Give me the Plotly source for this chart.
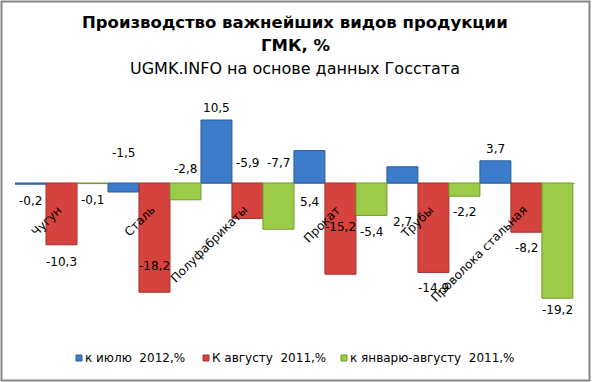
import plotly.graph_objects as go

categories = ["Чугун", "Сталь", "Полуфабрикаты", "Прокат", "Трубы", "Проволока стальная"]
series_names = ["к июлю  2012,%", "К августу  2011,%", "к январю-августу  2011,%"]
vals_july2012 = [-0.2, -1.5, 10.5, 5.4, 2.7, 3.7]
vals_aug2011 = [-10.3, -18.2, -5.9, -15.2, -14.9, -8.2]
vals_janaug2011 = [-0.1, -2.8, -7.7, -5.4, -2.2, -19.2]

# label vertical offsets in pixels relative to bar end (placement only)
lbl_shift_july = [-17, 39, 12, -51, -55, 12]
lbl_shift_aug = [-17, 26, 55, 47, -16, -16]
lbl_shift_janaug = [-16, 31, 66, -17, -16, -12]

fills = ["#3D7CCB", "#D6423E", "#9CCB48"]
edges = ["#2B5C9C", "#A32F2C", "#6E9A2C"]

W, H = 592, 382
ML, MR, MT, MB = 15, 17, 95, 62
PW, PH = W - ML - MR, H - MT - MB


def px_x(p):
    return (p - ML) / PW


def px_y(p):
    return (H - MB - p) / PH


fig = go.Figure()
all_vals = [vals_july2012, vals_aug2011, vals_janaug2011]
all_shifts = [lbl_shift_july, lbl_shift_aug, lbl_shift_janaug]
for name, v, fc, ec in zip(series_names, all_vals, fills, edges):
    fig.add_trace(go.Bar(
        x=categories, y=v, name=name,
        marker=dict(color=fc, line=dict(color=ec, width=1)),
        hoverinfo="skip", showlegend=False,
    ))

group_w = PW / len(categories)
bar_w = group_w / 3
font = "DejaVu Sans"
for si, (v, sh) in enumerate(zip(all_vals, all_shifts)):
    for ci, cat in enumerate(categories):
        fig.add_annotation(
            x=cat, y=v[ci], xref="x", yref="y",
            text=f"{v[ci]:.1f}".replace(".", ","),
            showarrow=False, xanchor="center", yanchor="middle",
            xshift=(si - 1) * bar_w, yshift=sh[ci],
            font=dict(family=font, size=12, color="#000000"),
        )

for cat in categories:
    fig.add_annotation(
        x=cat, y=0, xref="x", yref="y", text=cat, showarrow=False,
        textangle=-45, xanchor="right", yanchor="top",
        xshift=6, yshift=-17,
        font=dict(family=font, size=12, color="#000000"),
    )

# titles
fig.add_annotation(
    xref="paper", yref="paper", x=px_x(295), y=px_y(23),
    text="<b>Производство важнейших видов продукции</b>", showarrow=False,
    xanchor="center", yanchor="middle", font=dict(family=font, size=16.5, color="#000000"))
fig.add_annotation(
    xref="paper", yref="paper", x=px_x(295.5), y=px_y(46),
    text="<b>ГМК, %</b>", showarrow=False,
    xanchor="center", yanchor="middle", font=dict(family=font, size=16.5, color="#000000"))
fig.add_annotation(
    xref="paper", yref="paper", x=px_x(295), y=px_y(69),
    text="UGMK.INFO на основе данных Госстата", showarrow=False,
    xanchor="center", yanchor="middle", font=dict(family=font, size=16, color="#000000"))

# manual legend
leg_marker_left = [76, 203, 341]
leg_y = 358
for name, fc, ec, mx in zip(series_names, fills, edges, leg_marker_left):
    fig.add_shape(type="rect", xref="paper", yref="paper",
                  x0=px_x(mx), x1=px_x(mx + 6), y0=px_y(leg_y + 3), y1=px_y(leg_y - 3),
                  fillcolor=fc, line=dict(color=ec, width=1))
    fig.add_annotation(xref="paper", yref="paper", x=px_x(mx + 7), y=px_y(leg_y),
                       text=name, showarrow=False, xanchor="left", yanchor="middle",
                       font=dict(family=font, size=12, color="#000000"))

# chart border
fig.add_shape(type="rect", xref="paper", yref="paper",
              x0=px_x(1.5), x1=px_x(589.5), y0=px_y(1.5), y1=px_y(380.5),
              line=dict(color="#868686", width=2), fillcolor="rgba(0,0,0,0)", layer="above")

fig.update_layout(
    width=W, height=H,
    margin=dict(l=ML, r=MR, t=MT, b=MB, autoexpand=False),
    paper_bgcolor="white", plot_bgcolor="white",
    barmode="group", bargap=0, bargroupgap=0,
    showlegend=False,
    xaxis=dict(type="category", showticklabels=False, showgrid=False,
               zeroline=False, showline=False, ticks=""),
    yaxis=dict(range=[-(H - MB - 183) / 6.0, (183 - MT) / 6.0],
               showticklabels=False, showgrid=False, zeroline=True,
               zerolinecolor="#A6A6A6", zerolinewidth=1, showline=False, ticks=""),
)

fig.write_html(
    "out.html",
    config={"displayModeBar": False, "staticPlot": True},
    post_script="document.body.style.margin='0';document.body.style.overflow='hidden';",
)
